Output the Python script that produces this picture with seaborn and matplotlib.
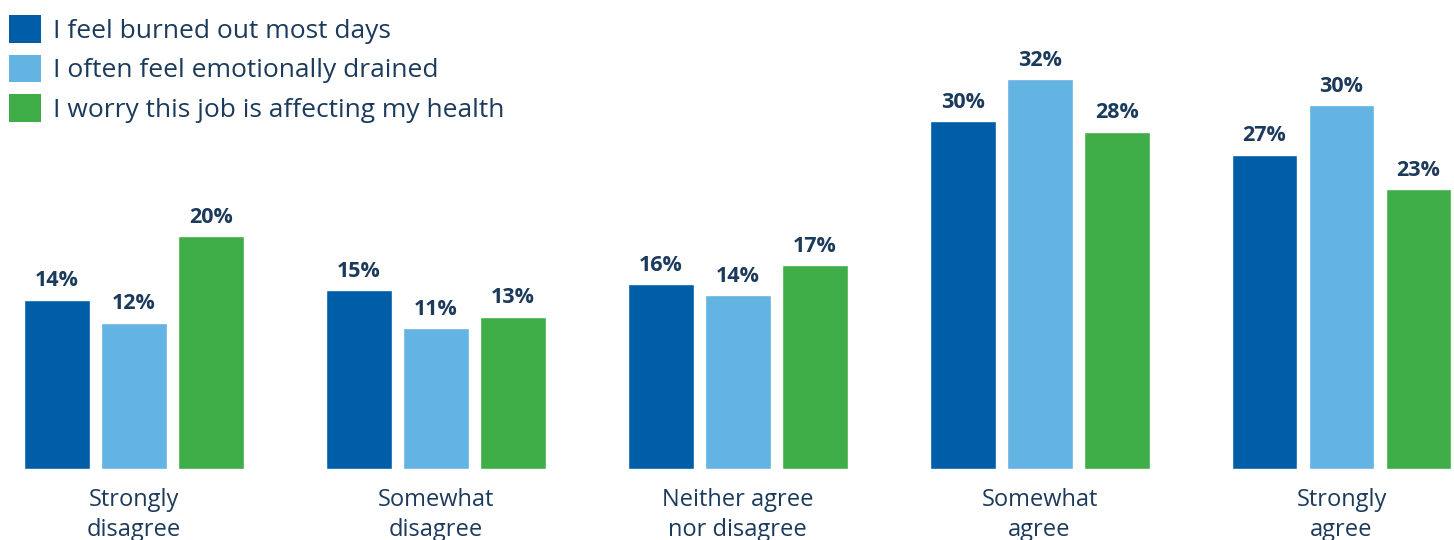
import matplotlib
matplotlib.use("Agg")
import matplotlib.pyplot as plt
import seaborn as sns
import pandas as pd
from matplotlib.patches import Patch

categories = ["Strongly\ndisagree", "Somewhat\ndisagree", "Neither agree\nnor disagree",
              "Somewhat\nagree", "Strongly\nagree"]
series = ["I feel burned out most days", "I often feel emotionally drained",
          "I worry this job is affecting my health"]
# bar heights as drawn
burned_out = [14.1, 14.9, 15.4, 29.0, 26.2]
drained = [12.2, 11.75, 14.5, 32.5, 30.3]
health = [19.4, 12.7, 17.0, 28.1, 23.3]
# printed labels
burned_out_labels = ["14%", "15%", "16%", "30%", "27%"]
drained_labels = ["12%", "11%", "14%", "32%", "30%"]
health_labels = ["20%", "13%", "17%", "28%", "23%"]
colors = ["#005EA8", "#63B3E3", "#3FAE49"]
text_color = "#1B3A5C"

rows = []
for s, vals in zip(series, [burned_out, drained, health]):
    for c, v in zip(categories, vals):
        rows.append({"category": c, "series": s, "value": v})
df = pd.DataFrame(rows)

sns.set_theme(style="white")
plt.rcParams["font.family"] = ["Open Sans", "DejaVu Sans"]

fig = plt.figure(figsize=(14.54, 5.4), dpi=100)
ax = fig.add_axes([0, 71 / 540, 1, 469 / 540])

sns.barplot(data=df, x="category", y="value", hue="series", hue_order=series,
            order=categories, palette=colors, width=0.765, gap=0.145,
            saturation=1, ax=ax, legend=False)

for cont, labs in zip(ax.containers, [burned_out_labels, drained_labels, health_labels]):
    ax.bar_label(cont, labels=labs, padding=6,
                 fontsize=15.5, fontweight="bold", color=text_color)

ax.set_xlim(-0.4435, 4.3726)
ax.set_ylim(0, 469 / 12)
ax.set_xlabel("")
ax.set_ylabel("")
ax.set_yticks([])
ax.tick_params(axis="x", length=0, pad=14, labelsize=17, labelcolor=text_color)
for t in ax.get_xticklabels():
    t.set_linespacing(1.3)
for sp in ax.spines.values():
    sp.set_visible(False)

handles = [Patch(facecolor=c, edgecolor="none") for c in colors]
leg = ax.legend(handles, series, loc="upper left", bbox_to_anchor=(-0.0036, 0.998),
                frameon=False, fontsize=19, handlelength=1.2, handleheight=1.2,
                handletextpad=0.45, labelspacing=0.42, borderaxespad=0.4,
                borderpad=0.15)
for t in leg.get_texts():
    t.set_color(text_color)

fig.savefig("out.png", dpi=100)
